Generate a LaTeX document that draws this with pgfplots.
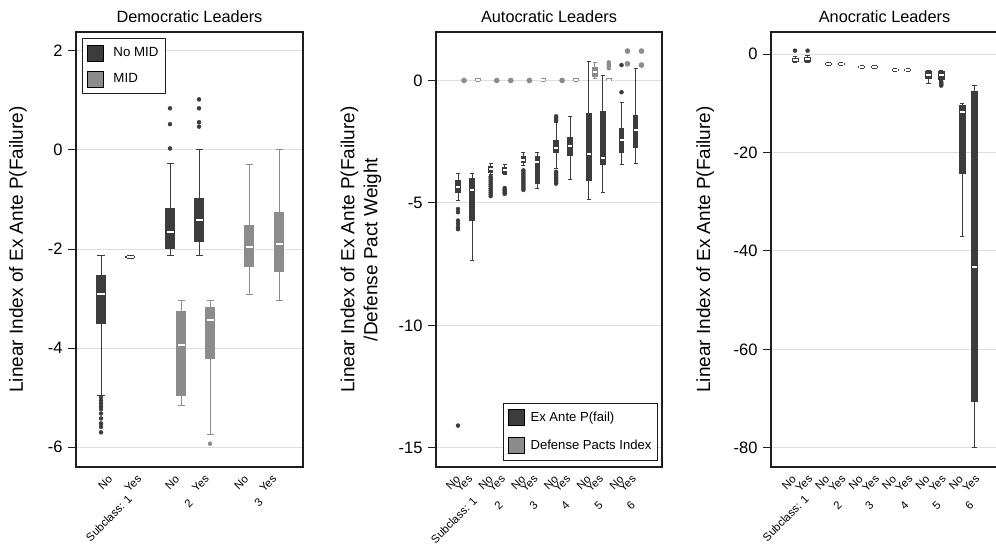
\documentclass[border=0pt]{standalone}
\usepackage{fontspec}
\setmainfont{Liberation Sans}
\usepackage{pgfplots}
\pgfplotsset{compat=1.18}
\definecolor{dkc}{RGB}{60,60,60}
\definecolor{ltc}{RGB}{140,140,140}
\definecolor{gridc}{RGB}{222,222,222}
\definecolor{framec}{RGB}{30,30,30}

\pgfplotsset{
  panel/.style={scale only axis, height=435bp, xmin=0, clip=false,
    axis line style={line width=1.2bp, draw=framec},
    ymajorgrids, grid style={draw=gridc, line width=1bp},
    tick align=outside, ytick pos=left, major tick length=8bp,
    ytick style={line width=1bp, draw=framec}, xtick style={draw=none},
    yticklabel style={font=\fontsize{16.5bp}{19bp}\selectfont, xshift=-2bp},
    xticklabel shift=-2bp,
    xticklabel style={rotate=45, anchor=north east, inner sep=0pt, xshift=-1.5bp,
      font=\fontsize{11.3bp}{13bp}\selectfont},
    title style={font=\fontsize{16.3bp}{19bp}\selectfont, at={(0.5,1)}, anchor=base, yshift=4bp},
    ylabel style={font=\fontsize{19bp}{23bp}\selectfont, anchor=center},
    legend image code/.code={\fill[##1] (0bp,-8bp) rectangle (16bp,8bp);},
    legend cell align=left,
  },
}
\tikzset{grp/.style={rotate=45, anchor=north east, inner sep=0pt, font=\fontsize{11.3bp}{13bp}\selectfont}}

% one box: colour, position, lower whisker, lower quartile, median, upper quartile, upper whisker
\newcommand\bx[7]{%
  \addplot[forget plot, draw=#1, line width=1bp] coordinates {(#2,#3) (#2,#7)};
  \addplot[forget plot, only marks, mark=-, mark size=\capw, mark options={draw=#1, line width=1bp}]
    coordinates {(#2,#3) (#2,#7)};
  \addplot[forget plot, draw=#1, line width=\boxw] coordinates {(#2,#4) (#2,#6)};
  \addplot[forget plot, only marks, mark=-, mark size=\medw, mark options={draw=white, line width=2bp}]
    coordinates {(#2,#5)};
}
% outside values: colour, points
\newcommand\outl[2]{%
  \addplot[forget plot, only marks, mark=*, mark size=2bp, mark options={draw=#1, fill=#1}]
    coordinates {#2};
}

\begin{document}
\begin{tikzpicture}
\path[use as bounding box] (0,0) rectangle (996bp,545bp);

% ---------------- Democratic
\def\boxw{10bp}\def\capw{3.5bp}\def\medw{3.5bp}
\begin{axis}[panel, at={(76bp,78bp)}, anchor=south west, width=227bp, xmax=227,
  ymin=-6.4, ymax=2.38, ytick={-6,-4,-2,0,2}, yticklabels={-6,-4,-2,0,2},
  xtick={32.6,61.6,99.6,129.3,168.6,196.6}, xticklabels={No,Yes,No,Yes,No,Yes},
  title={Democratic Leaders},
  ylabel={Linear Index of Ex Ante P(Failure)},
  ylabel style={at={(axis description cs:-0.2555,0.5)}},
  legend style={at={(axis description cs:0.0264,0.986)}, anchor=north west,
    draw=framec, line width=1bp, font=\fontsize{13.3bp}{15bp}\selectfont,
    inner xsep=5bp, inner ysep=6bp, row sep=9bp,
    /tikz/every odd column/.append style={column sep=7bp}}]
\addlegendimage{fill=dkc}\addlegendentry{No MID}
\addlegendimage{fill=ltc}\addlegendentry{MID}
\bx{dkc}{25}{-4.95}{-3.52}{-2.90}{-2.53}{-2.14}
\outl{dkc}{(25,-4.99) (25,-5.06) (25,-5.12) (25,-5.18) (25,-5.23) (25,-5.32) (25,-5.42) (25,-5.52) (25,-5.59) (25,-5.70)}
\bx{dkc}{54}{-2.19}{-2.185}{-2.16}{-2.135}{-2.13}
\bx{dkc}{94}{-2.14}{-1.99}{-1.66}{-1.18}{-0.27}
\outl{dkc}{(94,0.84) (94,0.52) (94,0.03)}
\bx{dkc}{123}{-2.14}{-1.85}{-1.41}{-0.98}{0.0}
\outl{dkc}{(123,1.02) (123,0.84) (123,0.56) (123,0.47)}
\bx{ltc}{105}{-5.16}{-4.97}{-3.93}{-3.25}{-3.03}
\bx{ltc}{134}{-5.75}{-4.22}{-3.43}{-3.18}{-3.04}
\outl{ltc}{(134,-5.93)}
\bx{ltc}{173}{-2.91}{-2.37}{-1.95}{-1.52}{-0.30}
\bx{ltc}{203}{-3.03}{-2.47}{-1.89}{-1.26}{0.0}
\node[grp] at ([xshift=-5bp,yshift=-27bp]axis cs:56,-6.4) {Subclass: 1};
\node[grp] at ([xshift=-2bp,yshift=-31bp]axis cs:114,-6.4) {2};
\node[grp] at ([xshift=-2bp,yshift=-30bp]axis cs:184,-6.4) {3};
\end{axis}

% ---------------- Autocratic
\def\boxw{5.5bp}\def\capw{2bp}\def\medw{2bp}
\begin{axis}[panel, at={(436bp,78bp)}, anchor=south west, width=226bp, xmax=226,
  ymin=-15.78, ymax=1.98, ytick={-15,-10,-5,0}, yticklabels={-15,-10,-5,0},
  xtick={20.3,32.6,53.0,65.3,85.7,98.0,118.4,130.7,151.1,163.4,183.8,196.1},
  xticklabels={No,Yes,No,Yes,No,Yes,No,Yes,No,Yes,No,Yes},
  title={Autocratic Leaders},
  ylabel={Linear Index of Ex Ante P(Failure)\\/Defense Pact Weight},
  ylabel style={align=center, at={(axis description cs:-0.332,0.5)}},
  legend style={at={(axis description cs:0.982,0.014)}, anchor=south east,
    draw=framec, line width=1bp, font=\fontsize{13.1bp}{15bp}\selectfont,
    inner xsep=4bp, inner ysep=6bp, row sep=11bp,
    /tikz/every odd column/.append style={column sep=4bp}}]
\addlegendimage{fill=dkc}\addlegendentry{Ex Ante P(fail)}
\addlegendimage{fill=ltc}\addlegendentry{Defense Pacts Index}
% dark series
\bx{dkc}{22}{-4.88}{-4.60}{-4.35}{-4.07}{-3.78}
\outl{dkc}{(22,-5.25) (22,-5.38) (22,-5.72) (22,-5.85) (22,-5.98) (22,-6.07) (22,-14.09)}
\bx{dkc}{36}{-7.35}{-5.72}{-4.49}{-3.99}{-3.78}
\bx{dkc}{54.7}{-3.85}{-3.77}{-3.63}{-3.50}{-3.37}
\outl{dkc}{(54.7,-3.93) (54.7,-4.00) (54.7,-4.08) (54.7,-4.16) (54.7,-4.24) (54.7,-4.32) (54.7,-4.40) (54.7,-4.48) (54.7,-4.56) (54.7,-4.64) (54.7,-4.72)}
\bx{dkc}{68.7}{-3.84}{-3.80}{-3.67}{-3.53}{-3.42}
\outl{dkc}{(68.7,-4.39) (68.7,-4.45) (68.7,-4.51) (68.7,-4.57) (68.7,-4.63)}
\bx{dkc}{87.4}{-3.47}{-3.37}{-3.24}{-3.09}{-2.92}
\outl{dkc}{(87.4,-3.67) (87.4,-3.75) (87.4,-3.83) (87.4,-3.91) (87.4,-3.99) (87.4,-4.07) (87.4,-4.15) (87.4,-4.23) (87.4,-4.31) (87.4,-4.39) (87.4,-4.47)}
\bx{dkc}{101.4}{-4.41}{-4.24}{-3.32}{-3.09}{-2.96}
\bx{dkc}{120.1}{-3.60}{-2.98}{-2.77}{-2.42}{-1.72}
\outl{dkc}{(120.1,-1.46) (120.1,-1.52) (120.1,-1.58) (120.1,-1.64) (120.1,-3.73) (120.1,-3.80) (120.1,-3.87) (120.1,-3.94) (120.1,-4.01) (120.1,-4.08) (120.1,-4.15) (120.1,-4.21)}
\bx{dkc}{134.1}{-4.05}{-3.09}{-2.67}{-2.30}{-1.49}
\bx{dkc}{152.8}{-4.84}{-4.11}{-3.01}{-1.31}{0.79}
\bx{dkc}{166.8}{-4.56}{-3.43}{-3.15}{-1.24}{0.19}
\bx{dkc}{185.5}{-3.42}{-2.94}{-2.44}{-1.96}{-0.91}
\outl{dkc}{(185.5,0.63) (185.5,-0.48)}
\bx{dkc}{199.5}{-3.37}{-2.75}{-2.03}{-1.42}{0.49}
% light series
\bx{ltc}{42}{-0.03}{-0.03}{0.03}{0.09}{0.09}
\bx{ltc}{107.4}{-0.03}{-0.03}{0.03}{0.09}{0.09}
\bx{ltc}{140.1}{-0.03}{-0.03}{0.03}{0.09}{0.09}
\bx{ltc}{158.8}{0.07}{0.15}{0.35}{0.56}{0.72}
\bx{ltc}{172.8}{-0.02}{-0.02}{0.04}{0.10}{0.10}
\outl{ltc}{(172.8,0.50) (172.8,0.58) (172.8,0.66) (172.8,0.74)}
\addplot[forget plot, only marks, mark=*, mark size=2.6bp, mark options={draw=ltc, fill=ltc}]
  coordinates {(28,0) (60.7,0) (74.7,0) (93.4,0) (126.1,0)
               (191.5,1.2) (191.5,0.68) (205.5,1.2) (205.5,0.63)};
\node[grp] at ([xshift=-3bp,yshift=-29bp]axis cs:39,-15.78) {Subclass: 1};
\node[grp] at ([xshift=-2bp,yshift=-33bp]axis cs:64,-15.78) {2};
\node[grp] at ([xshift=-2bp,yshift=-33bp]axis cs:99,-15.78) {3};
\node[grp] at ([xshift=-2bp,yshift=-33bp]axis cs:130.7,-15.78) {4};
\node[grp] at ([xshift=-2bp,yshift=-33bp]axis cs:164,-15.78) {5};
\node[grp] at ([xshift=-2bp,yshift=-33bp]axis cs:196.3,-15.78) {6};
\end{axis}

% ---------------- Anocratic
\def\boxw{7bp}\def\capw{2.2bp}\def\medw{2.5bp}
\begin{axis}[panel, at={(771bp,78bp)}, anchor=south west, width=227bp, xmax=227,
  ymin=-83.9, ymax=4.5, ytick={-80,-60,-40,-20,0}, yticklabels={-80,-60,-40,-20,0},
  xtick={21.3,37.6,54.7,71.0,88.1,104.4,121.5,137.8,154.9,171.2,188.3,204.6},
  xticklabels={No,Yes,No,Yes,No,Yes,No,Yes,No,Yes,No,Yes},
  title={Anocratic Leaders},
  ylabel={Linear Index of Ex Ante P(Failure)},
  ylabel style={at={(axis description cs:-0.29,0.5)}}]
\bx{dkc}{24}{-1.8}{-1.6}{-1.15}{-0.7}{-0.4}
\outl{dkc}{(24,0.7)}
\bx{dkc}{36.6}{-1.8}{-1.6}{-1.05}{-0.55}{-0.3}
\outl{dkc}{(36.6,0.7)}
\bx{dkc}{57.4}{-2.3}{-2.2}{-2.0}{-1.8}{-1.75}
\bx{dkc}{70}{-2.3}{-2.2}{-2.0}{-1.8}{-1.75}
\bx{dkc}{90.8}{-2.85}{-2.8}{-2.6}{-2.4}{-2.35}
\bx{dkc}{103.4}{-2.85}{-2.8}{-2.6}{-2.4}{-2.35}
\bx{dkc}{124.2}{-3.5}{-3.45}{-3.2}{-2.95}{-2.9}
\bx{dkc}{136.8}{-3.5}{-3.45}{-3.2}{-2.95}{-2.9}
\bx{dkc}{157.6}{-6.0}{-5.0}{-4.2}{-3.45}{-3.35}
\bx{dkc}{170.2}{-5.4}{-5.25}{-4.25}{-3.45}{-3.35}
\outl{dkc}{(170.2,-5.6) (170.2,-5.8) (170.2,-6.0) (170.2,-6.2) (170.2,-6.4)}
\bx{dkc}{191}{-37.15}{-24.27}{-11.73}{-10.24}{-10.1}
\bx{dkc}{203.6}{-79.9}{-70.6}{-43.25}{-7.46}{-6.3}
\node[grp] at ([xshift=-3bp,yshift=-27bp]axis cs:35.7,-83.9) {Subclass: 1};
\node[grp] at ([xshift=-3bp,yshift=-33bp]axis cs:69,-83.9) {2};
\node[grp] at ([xshift=-3bp,yshift=-33bp]axis cs:100.7,-83.9) {3};
\node[grp] at ([xshift=-3bp,yshift=-33bp]axis cs:135.7,-83.9) {4};
\node[grp] at ([xshift=-3bp,yshift=-33bp]axis cs:168,-83.9) {5};
\node[grp] at ([xshift=-3bp,yshift=-33bp]axis cs:200.7,-83.9) {6};
\end{axis}
\end{tikzpicture}
\end{document}
